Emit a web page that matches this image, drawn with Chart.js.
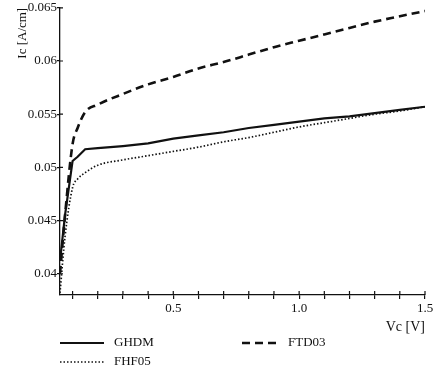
<!DOCTYPE html>
<html>
<head>
<meta charset="utf-8">
<script src="https://cdn.jsdelivr.net/npm/chart.js@4/dist/chart.umd.min.js"></script>
<style>
html,body{margin:0;padding:0;background:#fff;}
#wrap{width:437px;height:371px;position:relative;}
</style>
</head>
<body>
<div id="wrap"><canvas id="c" width="437" height="371"></canvas></div>
<script>
// ---- data ----
const vc = [0.05, 0.07, 0.10, 0.12, 0.15, 0.20, 0.30, 0.40, 0.50, 0.60, 0.70, 0.80, 0.90, 1.00, 1.10, 1.20, 1.30, 1.40, 1.50];
const ghdm  = [0.0412, 0.0455, 0.0506, 0.0510, 0.0517, 0.0518, 0.0520, 0.05225, 0.0527, 0.0530, 0.0533, 0.0537, 0.0540, 0.0543, 0.0546, 0.0548, 0.0551, 0.0554, 0.0557];
const fhf05 = [0.0382, 0.0435, 0.0481, 0.0489, 0.0495, 0.0502, 0.0507, 0.0511, 0.0515, 0.0519, 0.0524, 0.0528, 0.0533, 0.0538, 0.0542, 0.0546, 0.0550, 0.0553, 0.0557];
const ftd03 = [0.0400, 0.0455, 0.0522, 0.0537, 0.0552, 0.0559, 0.0569, 0.0578, 0.0585, 0.0593, 0.0599, 0.0606, 0.0613, 0.0619, 0.0625, 0.0631, 0.0637, 0.0642, 0.0647];
const seriesNames = ['GHDM', 'FHF05', 'FTD03'];
const xTickVals   = [0.1,0.2,0.3,0.4,0.5,0.6,0.7,0.8,0.9,1.0,1.1,1.2,1.3,1.4,1.5];
const xTickLabels = ['','','','','0.5','','','','','1.0','','','','','1.5'];
const yTickVals   = [0.04, 0.045, 0.05, 0.055, 0.06, 0.065];
const yTickLabels = ['0.04', '0.045', '0.05', '0.055', '0.06', '0.065'];
const xTitle = 'Vc [V]';
const yTitle = 'Ic [A/cm]';

const FONT = "'Liberation Serif', 'Times New Roman', serif";
const INK = '#111';

const pts = arr => vc.map((x, i) => ({x: x, y: arr[i]}));

// inward half of the cross-shaped tick marks
const innerTicks = {
  id: 'innerTicks',
  afterDraw(chart) {
    const ctx = chart.ctx;
    const xs = chart.scales.x, ys = chart.scales.y;
    ctx.save();
    ctx.strokeStyle = INK;
    ctx.lineWidth = 1.2;
    ctx.beginPath();
    xs.ticks.forEach(t => {
      const p = xs.getPixelForValue(t.value);
      ctx.moveTo(p, xs.top); ctx.lineTo(p, xs.top - 4);
    });
    ys.ticks.forEach(t => {
      const p = ys.getPixelForValue(t.value);
      ctx.moveTo(ys.right, p); ctx.lineTo(ys.right + 3, p);
    });
    ctx.stroke();
    ctx.restore();
  }
};

// legend drawn below the axis, two columns
const lowLegend = {
  id: 'lowLegend',
  afterDraw(chart, args, opts) {
    const ctx = chart.ctx;
    ctx.save();
    ctx.font = '13px ' + FONT;
    ctx.fillStyle = INK;
    ctx.textBaseline = 'middle';
    chart.data.datasets.forEach((ds, i) => {
      const slot = opts.slots[i];
      ctx.beginPath();
      ctx.strokeStyle = ds.borderColor;
      ctx.lineWidth = ds.borderWidth;
      ctx.setLineDash(ds.borderDash || []);
      ctx.moveTo(slot.x0, slot.y);
      ctx.lineTo(slot.x1, slot.y);
      ctx.stroke();
      ctx.setLineDash([]);
      ctx.fillText(ds.label, slot.x1 + 10, slot.y);
    });
    ctx.restore();
  }
};

new Chart(document.getElementById('c'), {
  type: 'line',
  data: {
    datasets: [
      {label: seriesNames[0], data: pts(ghdm), borderColor: INK, borderWidth: 2.2, borderDash: [], pointRadius: 0, tension: 0},
      {label: seriesNames[1], data: pts(fhf05), borderColor: INK, borderWidth: 1.7, borderDash: [1.5, 2], pointRadius: 0, cubicInterpolationMode: 'monotone'},
      {label: seriesNames[2], data: pts(ftd03), borderColor: INK, borderWidth: 2.6, borderDash: [8, 5], pointRadius: 0, cubicInterpolationMode: 'monotone'}
    ]
  },
  options: {
    responsive: false,
    animation: false,
    layout: {padding: {top: 7, right: 12, left: 0, bottom: 35}},
    plugins: {
      legend: {display: false},
      tooltip: {enabled: false},
      lowLegend: {slots: [
        {x0: 60, x1: 104, y: 343},
        {x0: 60, x1: 104, y: 362},
        {x0: 242, x1: 278, y: 343}
      ]}
    },
    scales: {
      x: {
        type: 'linear',
        min: 0.05, max: 1.5,
        afterBuildTicks: s => { s.ticks = xTickVals.map(v => ({value: v})); },
        afterFit: s => { s.height = 41; },
        ticks: {
          autoSkip: false, maxRotation: 0, padding: 2,
          color: INK, font: {family: FONT, size: 13},
          callback: (v, i) => xTickLabels[i]
        },
        grid: {drawOnChartArea: false, drawTicks: true, tickLength: 4, color: INK, lineWidth: 1.2},
        border: {color: INK, width: 1.3},
        title: {display: true, text: xTitle, align: 'end', color: INK, font: {family: FONT, size: 14}, padding: {top: 0, bottom: 0}}
      },
      y: {
        type: 'linear',
        min: 0.038, max: 0.065,
        afterBuildTicks: s => { s.ticks = yTickVals.map(v => ({value: v})); },
        afterFit: s => { s.width = 60; },
        ticks: {
          autoSkip: false, padding: 0,
          color: INK, font: {family: FONT, size: 13},
          callback: (v, i) => yTickLabels[i]
        },
        grid: {drawOnChartArea: false, drawTicks: true, tickLength: 3, color: INK, lineWidth: 1.2},
        border: {color: INK, width: 1.3},
        title: {display: true, text: yTitle, align: 'end', color: INK, font: {family: FONT, size: 13}, padding: {top: 15, bottom: 0}}
      }
    }
  },
  plugins: [innerTicks, lowLegend]
});
</script>
</body>
</html>
